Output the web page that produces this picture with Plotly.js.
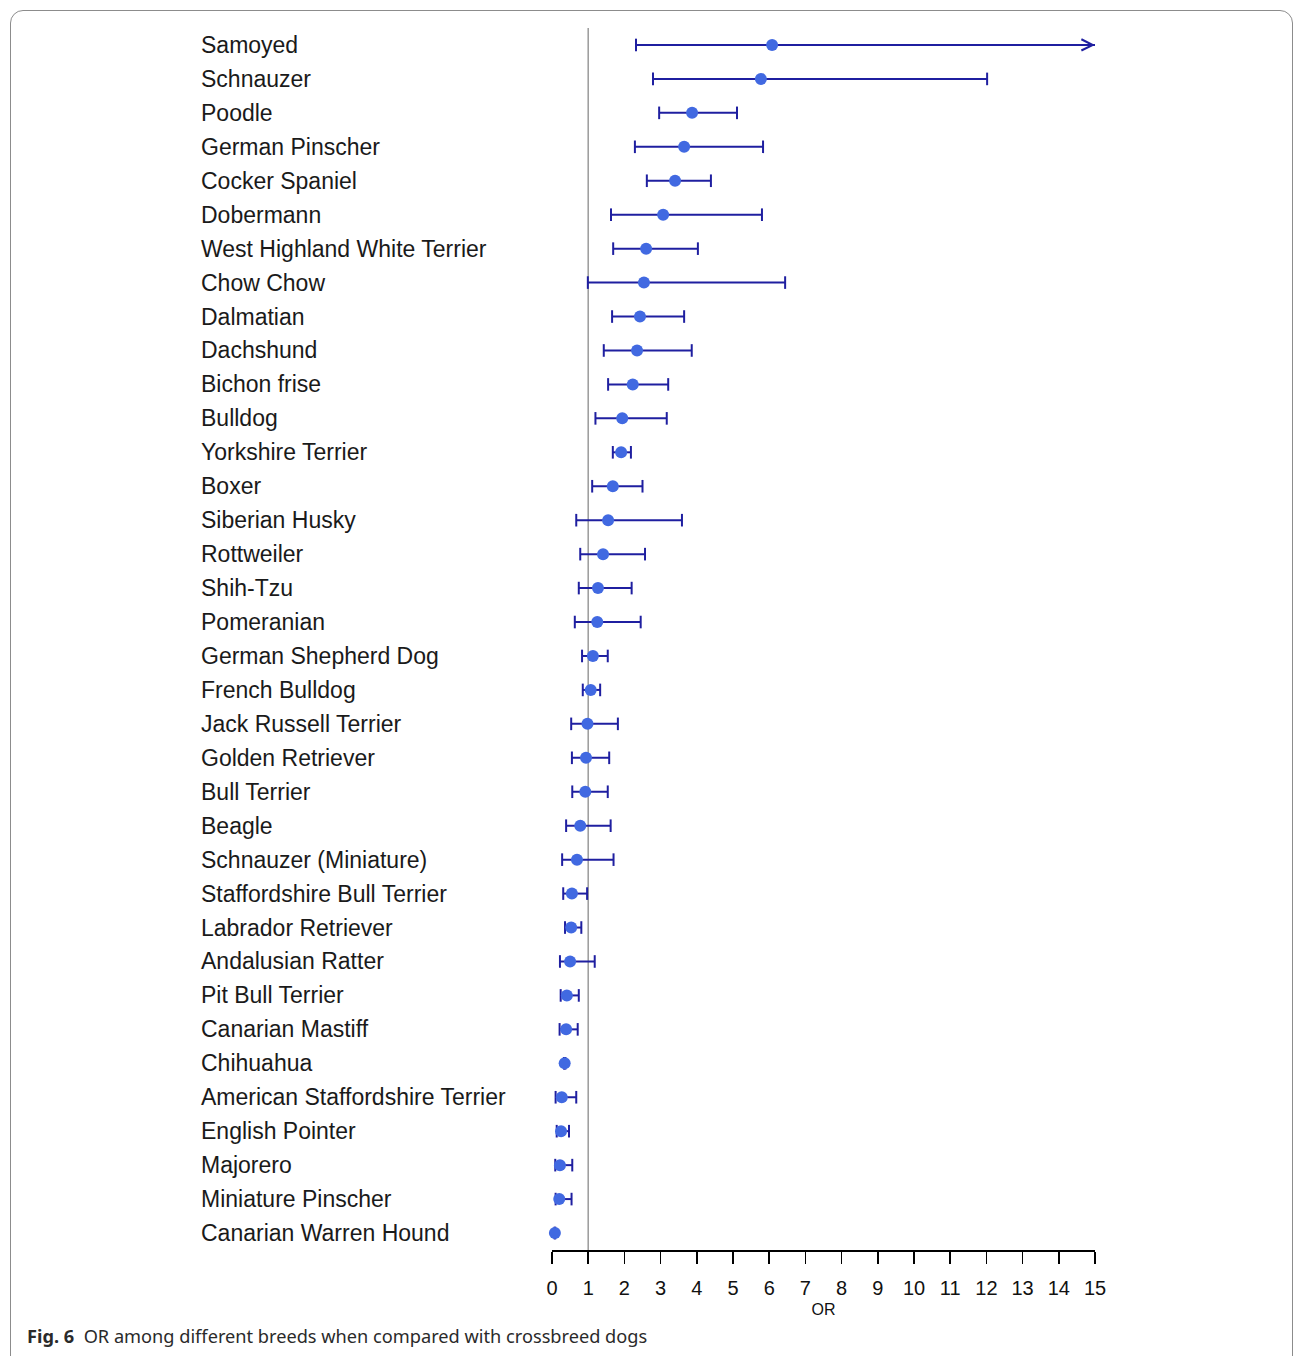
<!DOCTYPE html>
<html>
<head>
<meta charset="utf-8">
<script src="https://cdn.plot.ly/plotly-3.0.1.min.js"></script>
<style>
  html, body { margin: 0; padding: 0; background: #fff; }
  #wrap { position: relative; width: 1295px; height: 1356px; overflow: hidden; }
  #chart { position: absolute; left: 0; top: 0; width: 1295px; height: 1356px; }
  #frame { position: absolute; left: 10px; top: 10px; width: 1283px; height: 1370px;
           border: 1px solid #8c8c8c; border-radius: 13px; pointer-events: none; box-sizing: border-box; }
</style>
</head>
<body>
<div id="wrap">
  <div id="chart"></div>
  <div id="frame"></div>
</div>
<script>
// ---- data ----
const breeds = [
  "Samoyed", "Schnauzer", "Poodle", "German Pinscher", "Cocker Spaniel", "Dobermann",
  "West Highland White Terrier", "Chow Chow", "Dalmatian", "Dachshund", "Bichon frise",
  "Bulldog", "Yorkshire Terrier", "Boxer", "Siberian Husky", "Rottweiler", "Shih-Tzu",
  "Pomeranian", "German Shepherd Dog", "French Bulldog", "Jack Russell Terrier",
  "Golden Retriever", "Bull Terrier", "Beagle", "Schnauzer (Miniature)",
  "Staffordshire Bull Terrier", "Labrador Retriever", "Andalusian Ratter",
  "Pit Bull Terrier", "Canarian Mastiff", "Chihuahua", "American Staffordshire Terrier",
  "English Pointer", "Majorero", "Miniature Pinscher", "Canarian Warren Hound"
];
const orValue = [
  6.08, 5.77, 3.87, 3.65, 3.40, 3.07, 2.60, 2.54, 2.43, 2.35, 2.23, 1.94, 1.91, 1.68,
  1.55, 1.41, 1.27, 1.25, 1.13, 1.07, 0.98, 0.94, 0.92, 0.78, 0.69, 0.55, 0.53, 0.50,
  0.41, 0.39, 0.35, 0.27, 0.25, 0.22, 0.20, 0.08
];
const ciLower = [
  2.32, 2.79, 2.96, 2.29, 2.62, 1.63, 1.69, 0.99, 1.66, 1.43, 1.55, 1.20, 1.68, 1.11,
  0.67, 0.78, 0.74, 0.63, 0.83, 0.85, 0.53, 0.55, 0.56, 0.39, 0.28, 0.31, 0.36, 0.22,
  0.24, 0.21, 0.33, 0.10, 0.13, 0.09, 0.10, 0.07
];
const ciUpper = [
  17.5, 12.02, 5.11, 5.83, 4.39, 5.80, 4.03, 6.44, 3.65, 3.86, 3.21, 3.17, 2.18, 2.50,
  3.59, 2.57, 2.20, 2.45, 1.54, 1.33, 1.82, 1.58, 1.54, 1.62, 1.70, 0.97, 0.81, 1.18,
  0.74, 0.71, 0.37, 0.67, 0.47, 0.56, 0.54, 0.09
];
const xTicks = [0,1,2,3,4,5,6,7,8,9,10,11,12,13,14,15];
const xMax = 15;
const refLine = 1;

// ---- build traces ----
const segX = [], segY = [], capX = [], capY = [];
const clipped = [];
breeds.forEach((b, i) => {
  const lo = ciLower[i];
  const hi = Math.min(ciUpper[i], xMax);
  segX.push(lo, hi, null); segY.push(b, b, null);
  capX.push(lo); capY.push(b);
  if (ciUpper[i] <= xMax) { capX.push(hi); capY.push(b); }
  else clipped.push(b);
});

const navy = "#1f1fa0";
const traces = [
  { type: "scatter", mode: "lines", x: segX, y: segY,
    line: { color: navy, width: 2 }, hoverinfo: "skip", cliponaxis: false, showlegend: false },
  { type: "scatter", mode: "markers", x: capX, y: capY,
    marker: { symbol: "line-ns-open", size: 9, color: navy, line: { color: navy, width: 2 } },
    hoverinfo: "skip", cliponaxis: false, showlegend: false },
  { type: "scatter", mode: "markers", x: orValue, y: breeds,
    marker: { color: "#4169e1", size: 12, line: { width: 0 } },
    cliponaxis: false, showlegend: false }
];

const annotations = breeds.map(b => ({
  xref: "paper", yref: "y", x: -0.6505, y: b, xanchor: "left", yanchor: "middle",
  text: b, showarrow: false,
  font: { family: "Liberation Sans, Arial, sans-serif", size: 23, color: "#1a1a1a" }
}));
clipped.forEach(b => annotations.push({
  xref: "x", yref: "y", x: xMax, y: b, ax: -14, ay: 0, text: "",
  showarrow: true, arrowhead: 5, arrowsize: 1.1, arrowwidth: 2, arrowcolor: navy
}));
annotations.push({
  xref: "paper", yref: "paper", x: -0.97, y: -0.0705, xanchor: "left", yanchor: "middle",
  showarrow: false,
  text: "<b>Fig. 6</b>  OR among different breeds when compared with crossbreed dogs",
  font: { family: "Noto Sans, Open Sans, sans-serif", size: 18.2, color: "#2a2a2a" }
});

const layout = {
  width: 1295, height: 1356,
  margin: { l: 552, r: 200, t: 28, b: 106, pad: 0 },
  paper_bgcolor: "#fff", plot_bgcolor: "#fff",
  showlegend: false,
  xaxis: {
    range: [0, xMax], tickmode: "array", tickvals: xTicks, ticktext: xTicks.map(String),
    showgrid: false, zeroline: false, showline: true, linecolor: "#000", linewidth: 1.5,
    ticks: "outside", ticklen: 12, tickwidth: 1.5, tickcolor: "#000",
    ticklabelstandoff: 7,
    tickfont: { family: "Liberation Sans, Arial, sans-serif", size: 20, color: "#111" },
    title: { text: "OR", standoff: 6,
             font: { family: "Liberation Sans, Arial, sans-serif", size: 16, color: "#111" } },
    fixedrange: true
  },
  yaxis: {
    type: "category", categoryorder: "array", categoryarray: breeds,
    range: [breeds.length - 0.5, -0.5],
    showticklabels: false, showgrid: false, zeroline: false, showline: false, ticks: "",
    fixedrange: true
  },
  shapes: [{
    type: "line", xref: "x", yref: "paper", x0: refLine, x1: refLine, y0: 0, y1: 1,
    line: { color: "#9a9a9a", width: 1.5 }, layer: "below"
  }],
  annotations: annotations
};

Plotly.newPlot("chart", traces, layout, { staticPlot: true, displayModeBar: false });
</script>
</body>
</html>
